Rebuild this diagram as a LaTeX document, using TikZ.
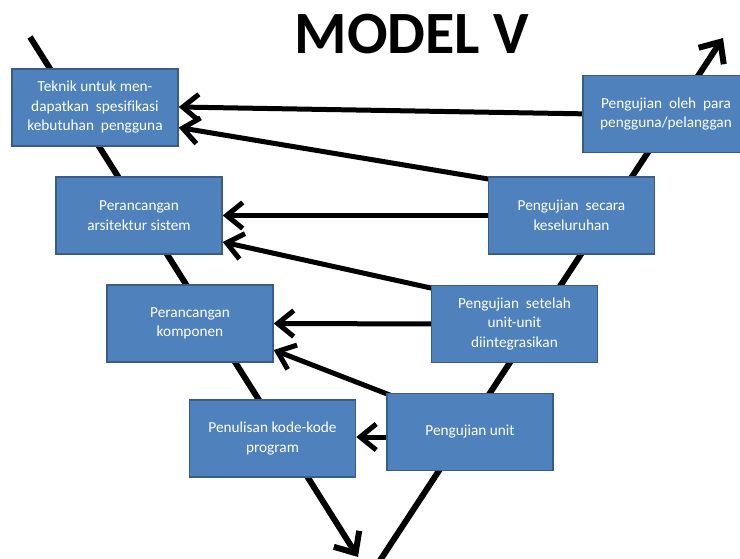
\documentclass[tikz,border=0pt]{standalone}
\usepackage{fontspec}
\setmainfont{Carlito}[Ligatures=NoCommon]
\usetikzlibrary{arrows.meta,calc,backgrounds}
\definecolor{boxfill}{HTML}{4F81BD}
\definecolor{boxline}{HTML}{385D8A}
\begin{document}
\begin{tikzpicture}[x=1pt,y=-1pt,
  stage/.style={draw=boxline,line width=1.5pt,fill=boxfill,text=white,
    minimum width=166pt,minimum height=77pt,inner sep=2pt,align=center,
    font=\fontsize{15.3}{19.5}\selectfont},
  vline/.style={line width=6pt,-{Straight Barb[length=17pt,width=30pt]}},
  link/.style={line width=5pt,-{Straight Barb[length=16pt,width=26pt]}}]
\useasboundingbox (0,0) rectangle (740,559);
\node[font=\fontsize{60}{60}\bfseries\selectfont] (title) at (412,34) {MODEL V};
% boxes
\node[stage] (b1) at (95,107.5) {Teknik untuk men-\\dapatkan\ \ spesifikasi\\kebutuhan\ \ pengguna};
\node[stage] (b8) at (666,114) {Pengujian\ \ oleh\ \ para\\pengguna/pelanggan};
\node[stage] (b2) at (139,215.5) {Perancangan\\arsitektur sistem};
\node[stage] (b7) at (571.5,215.5) {Pengujian\ \ secara\\keseluruhan};
\node[stage] (b3) at (190,323.5) {Perancangan\\komponen};
\node[stage] (b6) at (514.5,324) {Pengujian\ \ setelah\\unit-unit\\diintegrasikan};
\node[stage] (b4) at (272.5,438.5) {Penulisan kode-kode\\program};
\node[stage] (b5) at (470,432) {Pengujian unit};
\begin{scope}[on background layer]
% V lines
\coordinate (vtl) at (30,37);
\coordinate (vbl) at (358,557);
\coordinate (vbr) at (379,562);
\coordinate (vtr) at (723,38);
\draw[vline] (vtl) -- (vbl);
\draw[vline] (vbr) -- (vtr);
% connectors
\draw[link] ($(b8.west)+(10,0)$) -- ($(b1.east)+(0,-0.5)$);
\draw[link] ($(b7.north west)+(8,4)$) -- ($(b1.east)+(0,20)$);
\draw[link] ($(b7.west)+(10,0)$) -- (b2.east);
\draw[link] ($(b6.north west)+(8,5)$) -- ($(b2.east)+(0,26.5)$);
\draw[link] ($(b6.west)+(10,0)$) -- (b3.east);
\draw[link] ($(b5.north west)+(8,4)$) -- ($(b3.east)+(0,26.5)$);
\draw[link] ($(b5.west)+(10,5)$) -- ($(b4.east)+(0,-1.5)$);
\end{scope}
\end{tikzpicture}
\end{document}
